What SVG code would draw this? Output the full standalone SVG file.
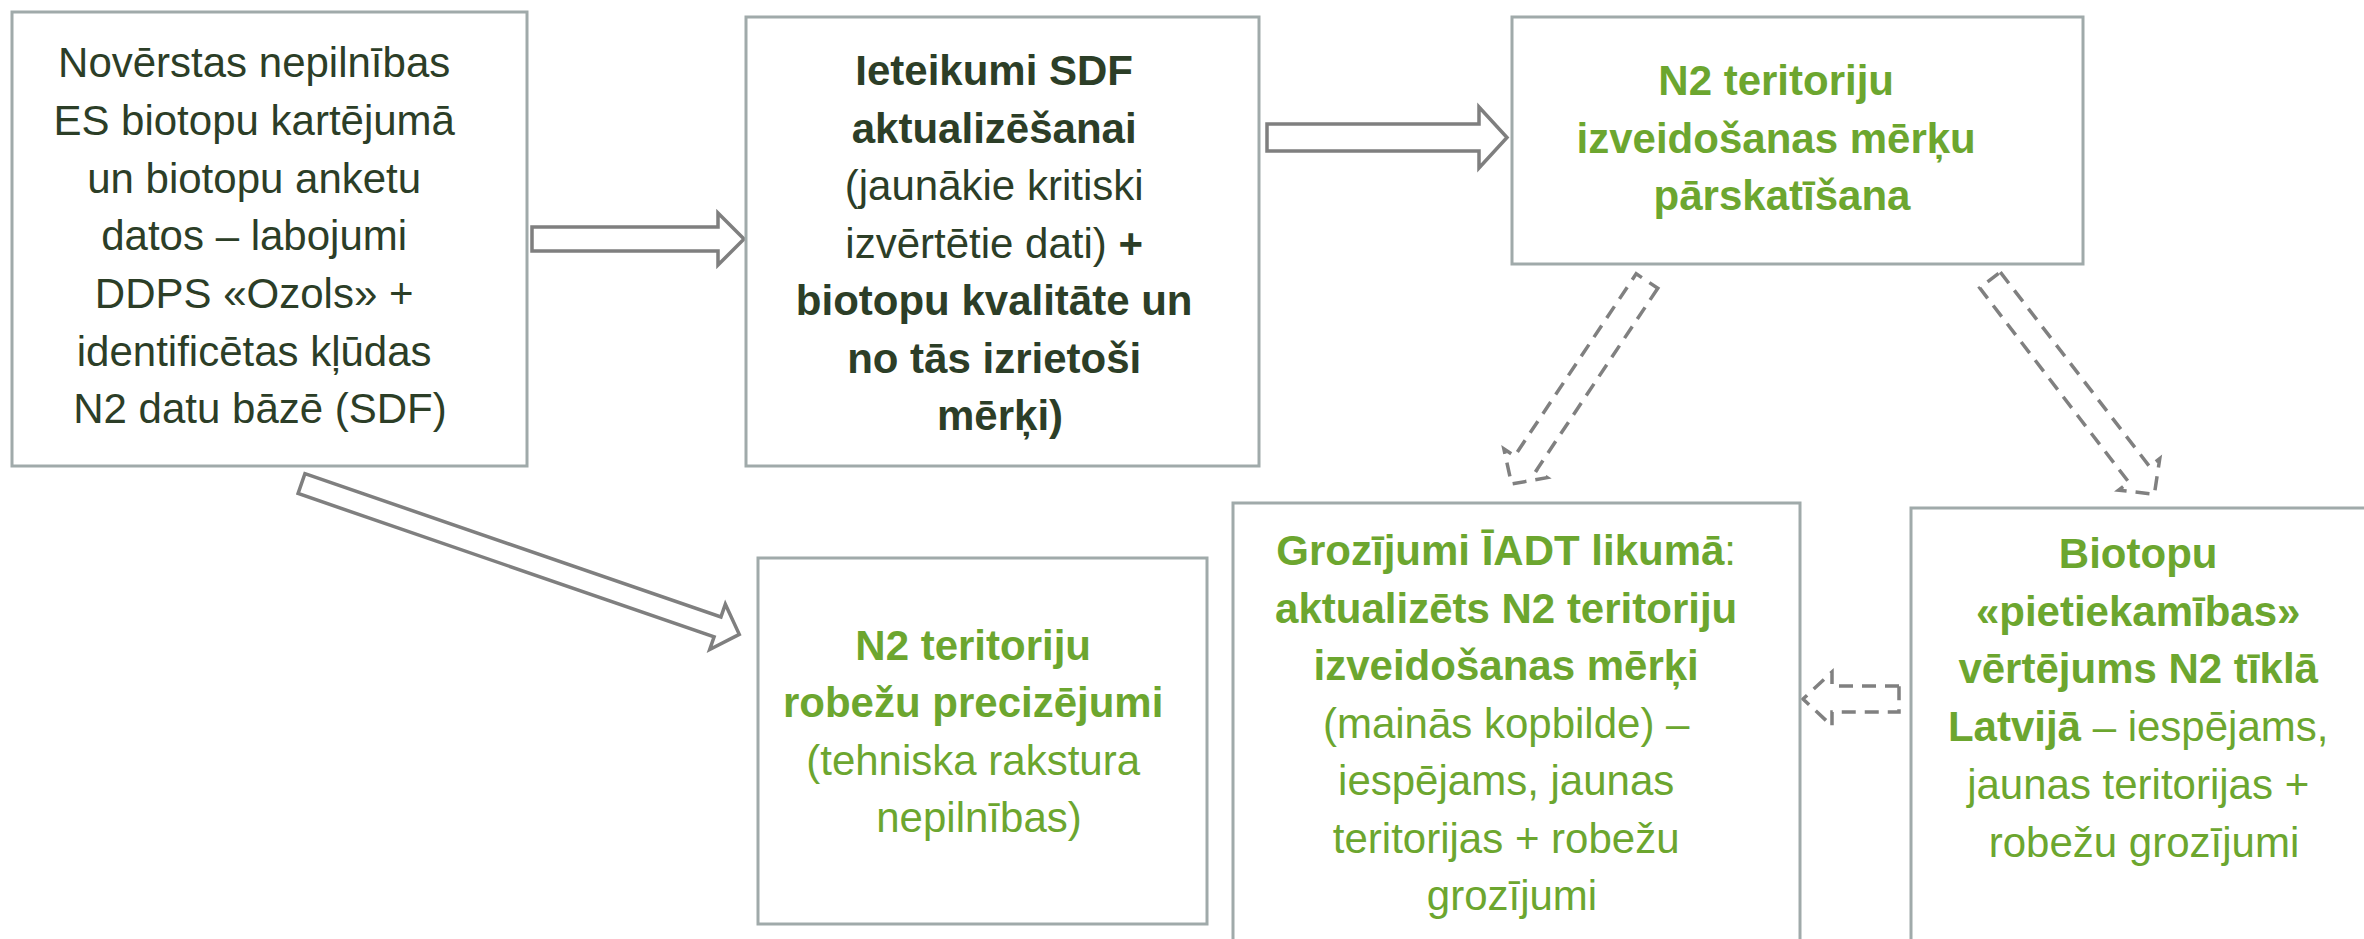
<svg xmlns="http://www.w3.org/2000/svg" width="2364" height="939" viewBox="0 0 2364 939">
<style>
.box{fill:#fff;stroke:#a0aaaa;stroke-width:3}
.t{font-family:"Liberation Sans",Arial,sans-serif;font-size:42px;text-anchor:middle}
.dk{fill:#2c3e27}
.gr{fill:#6ca62f}
.b{font-weight:bold}
.arr{fill:#fff;stroke:#7f7f7f;stroke-width:3.5;stroke-linejoin:miter}
.dash{fill:none;stroke:#808080;stroke-width:3.5;stroke-dasharray:14 9}
</style>
<rect width="2364" height="939" fill="#fff"/>
<g id="connectors">
<path class="arr" d="M532,227 L718,227 L718,213 L744,239 L718,265 L718,251 L532,251 Z"/>
<path class="arr" d="M1267,124 L1479,124 L1479,107 L1507,137.5 L1479,168 L1479,151 L1267,151 Z"/>
<path class="arr" transform="translate(301.5,483.6) rotate(19)" d="M0,-10.5 L440,-10.5 L440,-24 L463,0 L440,24 L440,10.5 L0,10.5 Z"/>
<path class="dash" transform="translate(1647,281) rotate(123.7)" d="M0,-13 L219,-13 L219,-26 L244,0 L219,26 L219,13 L0,13 Z"/>
<path class="dash" transform="translate(1990,280) rotate(52.5)" d="M0,-13 L245,-13 L245,-26 L270,0 L245,26 L245,13 L0,13 Z"/>
<path class="dash" d="M1899,686 L1832,686 L1832,672 L1803,699 L1832,726 L1832,712 L1899,712 Z"/>
</g>
<g id="n1">
<rect class="box" x="12" y="12" width="515" height="454"/>
<text class="t dk">
<tspan x="260" y="77">Novērstas nepilnības</tspan>
<tspan x="260" y="135">ES biotopu kartējumā</tspan>
<tspan x="260" y="193">un biotopu anketu</tspan>
<tspan x="260" y="250">datos – labojumi</tspan>
<tspan x="260" y="308">DDPS «Ozols» +</tspan>
<tspan x="260" y="366">identificētas kļūdas</tspan>
<tspan x="260" y="423">N2 datu bāzē (SDF)</tspan>
</text>
</g>
<g id="n2">
<rect class="box" x="746" y="17" width="513" height="449"/>
<text class="t dk">
<tspan class="b" x="1000" y="85">Ieteikumi SDF</tspan>
<tspan class="b" x="1000" y="142.5">aktualizēšanai</tspan>
<tspan x="1000" y="200">(jaunākie kritiski</tspan>
<tspan x="1000" y="257.5">izvērtētie dati) <tspan class="b">+</tspan></tspan>
<tspan class="b" x="1000" y="315">biotopu kvalitāte un</tspan>
<tspan class="b" x="1000" y="372.5">no tās izrietoši</tspan>
<tspan class="b" x="1000" y="430">mērķi)</tspan>
</text>
</g>
<g id="n3">
<rect class="box" x="1512" y="17" width="571" height="247"/>
<text class="t gr b">
<tspan x="1782" y="95">N2 teritoriju</tspan>
<tspan x="1782" y="153">izveidošanas mērķu</tspan>
<tspan x="1782" y="210">pārskatīšana</tspan>
</text>
</g>
<g id="n4">
<rect class="box" x="758" y="558" width="449" height="366"/>
<text class="t gr">
<tspan class="b" x="979" y="660">N2 teritoriju</tspan>
<tspan class="b" x="979" y="717">robežu precizējumi</tspan>
<tspan x="979" y="775">(tehniska rakstura</tspan>
<tspan x="979" y="832">nepilnības)</tspan>
</text>
</g>
<g id="n5">
<rect class="box" x="1233" y="503" width="567" height="470"/>
<text class="t gr">
<tspan x="1512" y="565"><tspan class="b">Grozījumi ĪADT likumā</tspan>:</tspan>
<tspan class="b" x="1512" y="622.5">aktualizēts N2 teritoriju</tspan>
<tspan class="b" x="1512" y="680">izveidošanas mērķi</tspan>
<tspan x="1512" y="737.5">(mainās kopbilde) –</tspan>
<tspan x="1512" y="795">iespējams, jaunas</tspan>
<tspan x="1512" y="852.5">teritorijas + robežu</tspan>
<tspan x="1512" y="910">grozījumi</tspan>
</text>
</g>
<g id="n6">
<rect class="box" x="1911" y="508" width="470" height="470"/>
<text class="t gr">
<tspan class="b" x="2144" y="568">Biotopu</tspan>
<tspan class="b" x="2144" y="625.5">«pietiekamības»</tspan>
<tspan class="b" x="2144" y="683">vērtējums N2 tīklā</tspan>
<tspan x="2144" y="741"><tspan class="b">Latvijā</tspan> – iespējams,</tspan>
<tspan x="2144" y="799">jaunas teritorijas +</tspan>
<tspan x="2144" y="857">robežu grozījumi</tspan>
</text>
</g>
</svg>
